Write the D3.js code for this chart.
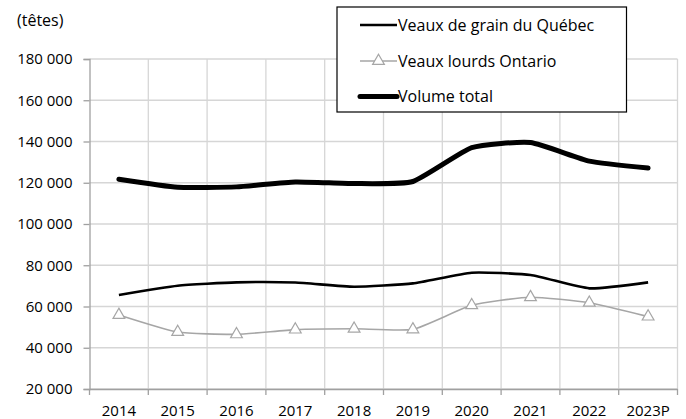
<!DOCTYPE html>
<html><head><meta charset="utf-8">
<script src="https://cdn.jsdelivr.net/npm/d3@7"></script>
<style>body{margin:0;background:#fff}svg{display:block}text{font-family:"Open Sans",sans-serif;fill:#000}</style>
</head><body><svg id="c" width="686" height="419"></svg>
<script>
const years = ["2014","2015","2016","2017","2018","2019","2020","2021","2022","2023P"];
const quebec = [65600,70100,71700,71600,69600,71200,76400,75300,68800,71700];
const ontario = [55900,47600,46500,48800,49200,48900,60600,64500,61800,55100];
const total = [121700,117800,118000,120400,119600,120600,137000,139500,130500,127100];
const yTicks = [20000,40000,60000,80000,100000,120000,140000,160000,180000];
const unitLabel = "(têtes)";
const legendNames = ["Veaux de grain du Québec","Veaux lourds Ontario","Volume total"];

const svg = d3.select("#c");
const L=89.5, R=677.5, T=59, B=389;
const x = d3.scaleBand().domain(years).range([L,R]);
const y = d3.scaleLinear().domain([20000,180000]).range([B,T]);
const fmt = v => d3.format(",")(v).replace(/,/g," ");
const fs = 15;

// gridlines
const g = svg.append("g");
g.selectAll(".hg").data(yTicks).join("line")
 .attr("x1",L).attr("x2",R).attr("y1",d=>y(d)).attr("y2",d=>y(d))
 .attr("stroke","#d6d6d6").attr("stroke-width",1.3);
const bounds = years.map(d=>x(d)+x.bandwidth());
g.selectAll(".vg").data(bounds).join("line")
 .attr("x1",d=>d).attr("x2",d=>d).attr("y1",T).attr("y2",B)
 .attr("stroke","#d6d6d6").attr("stroke-width",1.3);

// axes
const ya = svg.append("g").attr("transform",`translate(${L},0)`)
 .call(d3.axisLeft(y).tickValues(yTicks).tickFormat(fmt).tickSize(6).tickPadding(11));
ya.select(".domain").attr("stroke","#a0a0a0").attr("stroke-width",1.3);
ya.selectAll(".tick line").attr("stroke","#a0a0a0").attr("stroke-width",1.3);
ya.selectAll("text").style("font-size",fs+"px").style("font-family","'Open Sans',sans-serif");

const xa = svg.append("g").attr("transform",`translate(0,${B})`)
 .call(d3.axisBottom(x).tickSize(0).tickPadding(16));
xa.select(".domain").attr("stroke","#a0a0a0").attr("stroke-width",1.3);
xa.selectAll("text").style("font-size",fs+"px").style("font-family","'Open Sans',sans-serif");
svg.append("g").selectAll("line").data([L,...bounds]).join("line")
 .attr("x1",d=>d).attr("x2",d=>d).attr("y1",B).attr("y2",B+6)
 .attr("stroke","#a0a0a0").attr("stroke-width",1.3);

svg.append("text").attr("x",17).attr("y",26).style("font-size","16px").text(unitLabel);

const cx = d => x(d)+x.bandwidth()/2;
const line = d3.line().x((d,i)=>cx(years[i])).y(d=>y(d)).curve(d3.curveCardinal.tension(0.5));

svg.append("path").datum(ontario).attr("d",line).attr("fill","none").attr("stroke","#a6a6a6").attr("stroke-width",1.6);
const tri = d3.symbol().type(d3.symbolTriangle).size(60);
svg.append("g").selectAll("path").data(ontario).join("path")
 .attr("d",tri).attr("transform",(d,i)=>`translate(${cx(years[i])},${y(d)})`)
 .attr("fill","#fff").attr("stroke","#a6a6a6").attr("stroke-width",1.2);
svg.append("path").datum(quebec).attr("d",line).attr("fill","none").attr("stroke","#000").attr("stroke-width",2.6);
svg.append("path").datum(total).attr("d",line).attr("fill","none").attr("stroke","#000").attr("stroke-width",5).attr("stroke-linecap","round");

// legend
const lg = svg.append("g");
lg.append("rect").attr("x",337).attr("y",7).attr("width",289.5).attr("height",105)
 .attr("fill","#fff").attr("stroke","#000").attr("stroke-width",1.2);
const rows=[25,61,96.5];
lg.append("line").attr("x1",360).attr("x2",397).attr("y1",rows[0]).attr("y2",rows[0]).attr("stroke","#000").attr("stroke-width",2.6);
lg.append("line").attr("x1",360).attr("x2",397).attr("y1",rows[1]).attr("y2",rows[1]).attr("stroke","#a6a6a6").attr("stroke-width",1.3);
lg.append("path").attr("d",tri).attr("transform",`translate(378.5,${rows[1]})`).attr("fill","#fff").attr("stroke","#a6a6a6").attr("stroke-width",1.2);
lg.append("line").attr("x1",360).attr("x2",397).attr("y1",rows[2]).attr("y2",rows[2]).attr("stroke","#000").attr("stroke-width",5).attr("stroke-linecap","round");
lg.selectAll("text").data(legendNames).join("text").attr("x",398).attr("y",(d,i)=>rows[i]).attr("dy","0.35em")
 .style("font-size","16px").text(d=>d);
</script></body></html>
